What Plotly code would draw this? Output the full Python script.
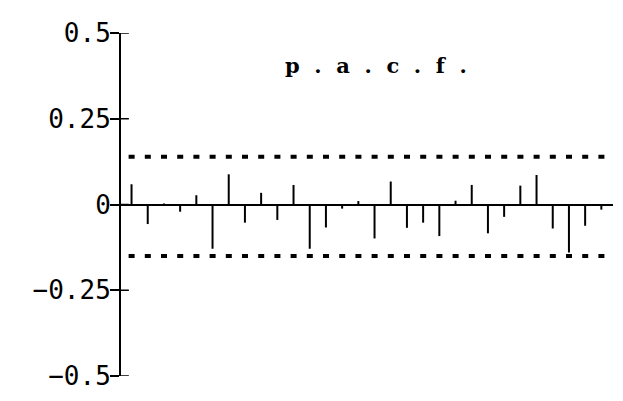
import plotly.graph_objects as go

# Data
lags = list(range(1, 31))
pacf = [0.059, -0.057, 0.003, -0.021, 0.027, -0.129, 0.088, -0.053, 0.034, -0.045,
        0.057, -0.129, -0.067, -0.012, 0.010, -0.099, 0.067, -0.068, -0.053, -0.092,
        0.011, 0.057, -0.084, -0.036, 0.055, 0.086, -0.070, -0.140, -0.062, -0.015]
upper_band = 0.139
lower_band = -0.150
ytick_vals = [-0.5, -0.25, 0, 0.25, 0.5]
ytick_text = ["\u22120.5", "\u22120.25", "0", "0.25", "0.5"]
title_text = "p . a . c . f ."

xs, ys = [], []
for k, v in zip(lags, pacf):
    xs += [k, k, None]
    ys += [0, v, None]

fig = go.Figure()
fig.add_trace(go.Scatter(x=xs, y=ys, mode="lines",
                         line=dict(color="black", width=2), hoverinfo="skip",
                         showlegend=False))

x_lo, x_hi = 0.35, 30.72
band_x0, band_x1 = 0.82, 30.55
for b in (upper_band, lower_band):
    fig.add_shape(type="line", x0=band_x0, x1=band_x1, y0=b, y1=b,
                  xref="x", yref="y",
                  line=dict(color="black", width=4, dash="6px,10.2px"))

# inner half of the crossing tick marks
for tv in ytick_vals:
    fig.add_shape(type="line", x0=0, x1=0.016, y0=tv, y1=tv,
                  xref="paper", yref="y", line=dict(color="black", width=1.5))

nb = "\u00a0\u00a0"
title_disp = nb.join(title_text.split(" "))
fig.add_annotation(text="<b>" + title_disp + "</b>", x=0.519, y=0.905,
                   xref="paper", yref="paper", showarrow=False,
                   xanchor="center", yanchor="middle",
                   font=dict(family="DejaVu Serif", size=21, color="black"))

# page body has an 8px margin, so the figure is drawn 8px smaller
fig.update_layout(
    width=615, height=393,
    margin=dict(l=113, r=10, t=23, b=24),
    paper_bgcolor="white", plot_bgcolor="white",
    showlegend=False,
    xaxis=dict(range=[x_lo, x_hi], visible=False, showgrid=False, zeroline=False),
    yaxis=dict(range=[-0.5, 0.5], tickvals=ytick_vals, ticktext=ytick_text,
               showgrid=False, zeroline=True, zerolinecolor="black", zerolinewidth=2,
               showline=True, linecolor="black", linewidth=2,
               ticks="outside", ticklen=9, tickwidth=1.5, tickcolor="black",
               ticklabelstandoff=-6,
               tickfont=dict(family="DejaVu Sans Mono", size=26, color="black")),
)

fig.write_html("out.html")
